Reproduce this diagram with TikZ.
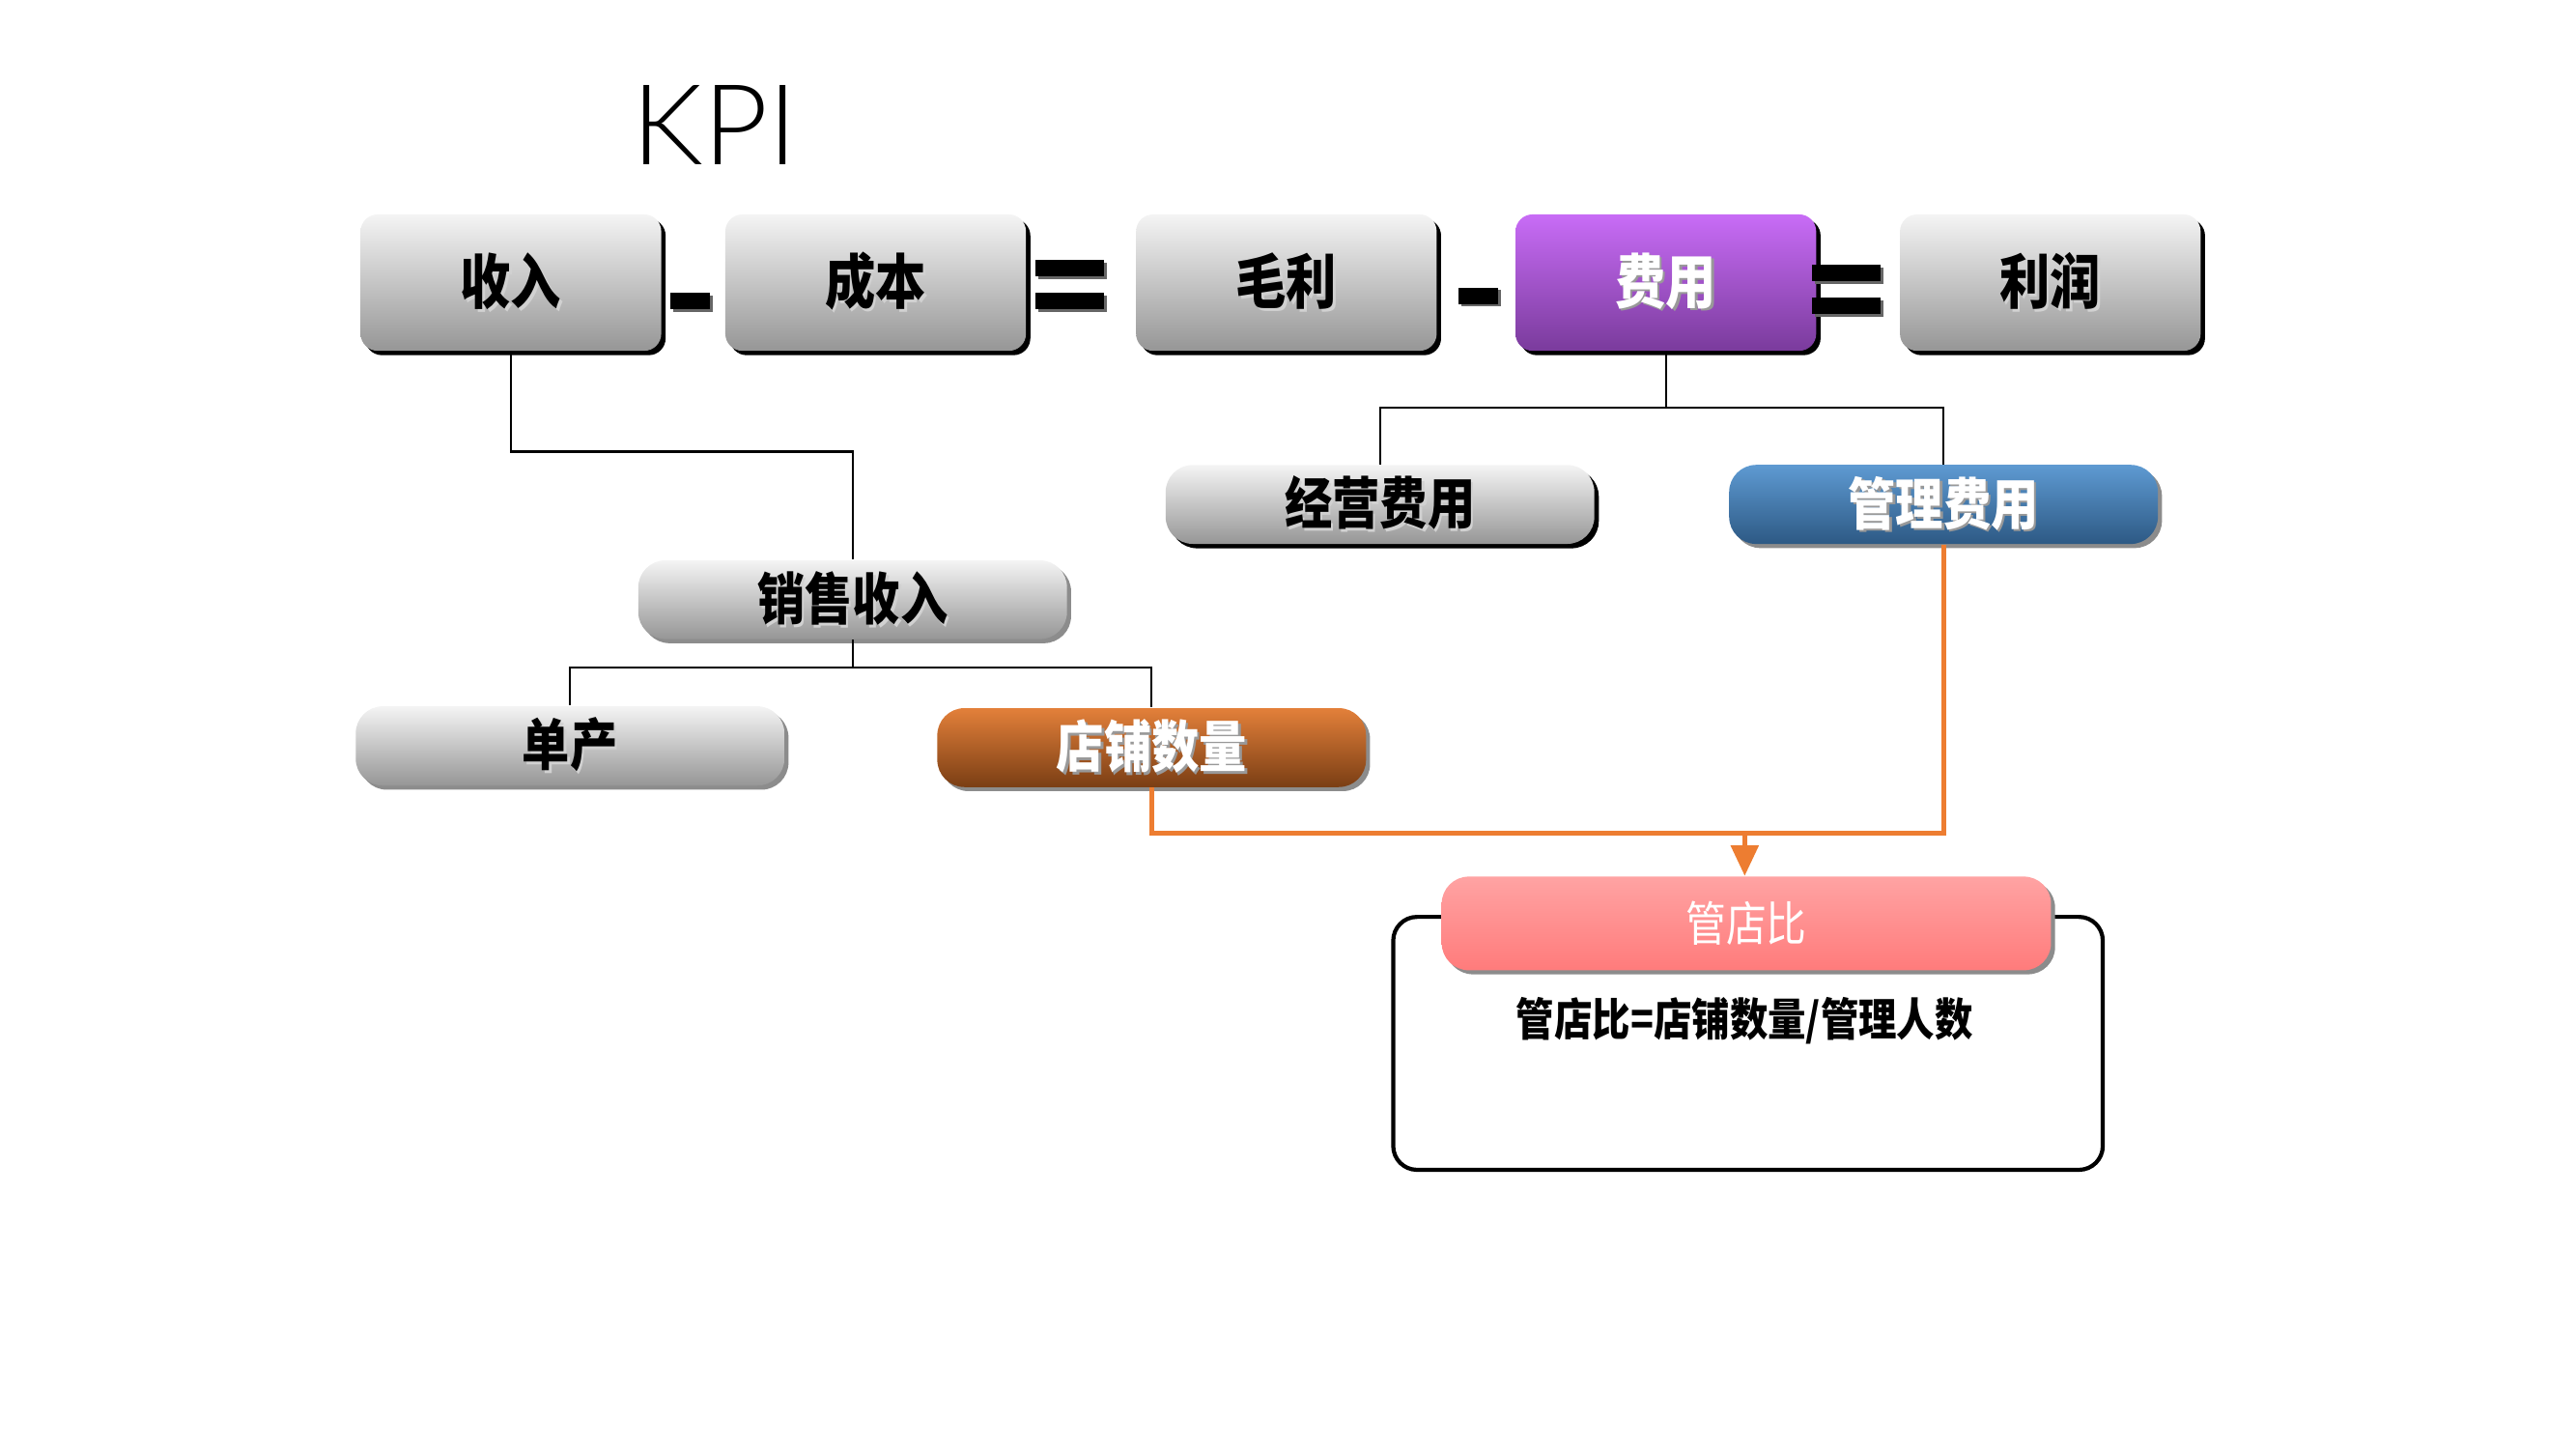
\documentclass[tikz,border=0pt]{standalone}
\usepackage{fontspec}
\newfontfamily\boxfont[FakeStretch=0.85]{Noto Sans CJK SC}
\newfontfamily\kpifont{Lato Light}
\usetikzlibrary{shadows,arrows.meta}

\definecolor{boxtop}{HTML}{F4F4F4}
\definecolor{boxbot}{HTML}{969696}
\definecolor{feitop}{HTML}{C86CF6}
\definecolor{feibot}{HTML}{7A3B9C}
\definecolor{dptop}{HTML}{E3803A}
\definecolor{dpbot}{HTML}{7A3E14}
\definecolor{gltop}{HTML}{5E9AD2}
\definecolor{glbot}{HTML}{2D5984}
\definecolor{gdtop}{HTML}{FFA3A3}
\definecolor{gdbot}{HTML}{FF7B7B}
\definecolor{linkorange}{HTML}{ED7D31}

% 带阴影的文字 \shtxt{阴影色}{文字}
\newcommand{\shtxt}[2]{\makebox[0pt][l]{\hspace{0.7pt}\raisebox{-0.7pt}{\color{#1}#2}}#2}

\begin{document}
\begin{tikzpicture}[x=0.017009cm, y=-0.017009cm,
  topbox/.style={rectangle, rounded corners=5pt, minimum width=3.113cm, minimum height=1.412cm,
    top color=boxtop, bottom color=boxbot,
    drop shadow={shadow xshift=1.3pt, shadow yshift=-1.3pt, fill=black, opacity=1},
    font=\boxfont\bfseries\fontsize{17.5}{17.5}\selectfont},
  pill/.style={rectangle, rounded corners=8pt, minimum width=4.44cm, minimum height=0.8cm,
    top color=boxtop, bottom color=boxbot,
    drop shadow={shadow xshift=1.2pt, shadow yshift=-1.2pt, fill=black!45, opacity=1},
    font=\boxfont\bfseries\fontsize{16.5}{16.5}\selectfont},
  opbar/.style={rectangle, fill=black, inner sep=0pt, minimum height=0.17cm,
    drop shadow={shadow xshift=0.8pt, shadow yshift=-0.8pt, fill=black!60, opacity=1}},
  link/.style={line width=0.65pt, draw=black},
  orangelink/.style={line width=1.5pt, draw=linkorange}]

\useasboundingbox (0,0) rectangle (1568,882);

\node[font=\kpifont\fontsize{33}{33}\selectfont] (kpi) at (435,76) {KPI};

% 第一行：收入 - 成本 = 毛利 - 费用 = 利润
\node[topbox] (shouru) at (311,172) {\shtxt{black!18}{收入}};
\node[topbox] (chengben) at (533,172) {\shtxt{black!18}{成本}};
\node[topbox] (maoli) at (783,172) {\shtxt{black!18}{毛利}};
\node[topbox, top color=feitop, bottom color=feibot, text=white] (feiyong) at (1014,172) {\shtxt{black!40}{费用}};
\node[topbox] (lirun) at (1248,172) {\shtxt{black!18}{利润}};

% 减号和等号
\foreach \nm/\x/\y/\w in {jianA/420/183/0.41, dengA/651/163/0.71, dengB/651/183/0.71,
                          jianB/900/180/0.41, dengC/1124/166/0.71, dengD/1124/186/0.71}
  \node[opbar, minimum width=\w cm] (\nm) at (\x,\y) {};

% 第二、三层
\node[pill] (xiaoshou) at (519,365) {\shtxt{black!18}{销售收入}};
\node[pill] (danchan) at (347,454) {\shtxt{black!18}{单产}};
\node[pill, top color=dptop, bottom color=dpbot, text=white] (dianpu) at (701,455) {\shtxt{black!40}{店铺数量}};
\node[pill, drop shadow={shadow xshift=1.3pt, shadow yshift=-1.3pt, fill=black, opacity=1}] (jingying) at (840,307) {\shtxt{black!18}{经营费用}};
\node[pill, top color=gltop, bottom color=glbot, text=white] (guanli) at (1183,307) {\shtxt{black!40}{管理费用}};

% 管店比
\node[draw=black, line width=1.2pt, rounded corners=7pt, minimum width=7.348cm, minimum height=2.619cm] (kuang) at (1064,635) {};
\node[pill, top color=gdtop, bottom color=gdbot, minimum width=6.31cm, minimum height=0.97cm, text=white,
  font=\boxfont\fontsize{14}{14}\selectfont] (guandian) at (1063,562) {管店比};
\node[font=\boxfont\bfseries\fontsize{13.2}{13.2}\selectfont] (gongshi) at (1062,621) {管店比=店铺数量/管理人数};

% 连线
\draw[link] (shouru.south) -- ++(0,61) -| (xiaoshou.north);
\draw[link] (xiaoshou.south) -- ++(0,17) -| (danchan.north);
\draw[link] (xiaoshou.south) ++(0,17) -| (dianpu.north);
\draw[link] (feiyong.south) -- ++(0,34) -| (jingying.north);
\draw[link] (feiyong.south) ++(0,34) -| (guanli.north);

\coordinate (huizong) at (1062,507);
\draw[orangelink] (dianpu.south) |- (huizong);
\draw[orangelink] (guanli.south) |- (huizong);
\draw[orangelink, -{Triangle[width=8pt,length=9pt]}] (huizong) -- (huizong |- guandian.north);

\end{tikzpicture}
\end{document}
